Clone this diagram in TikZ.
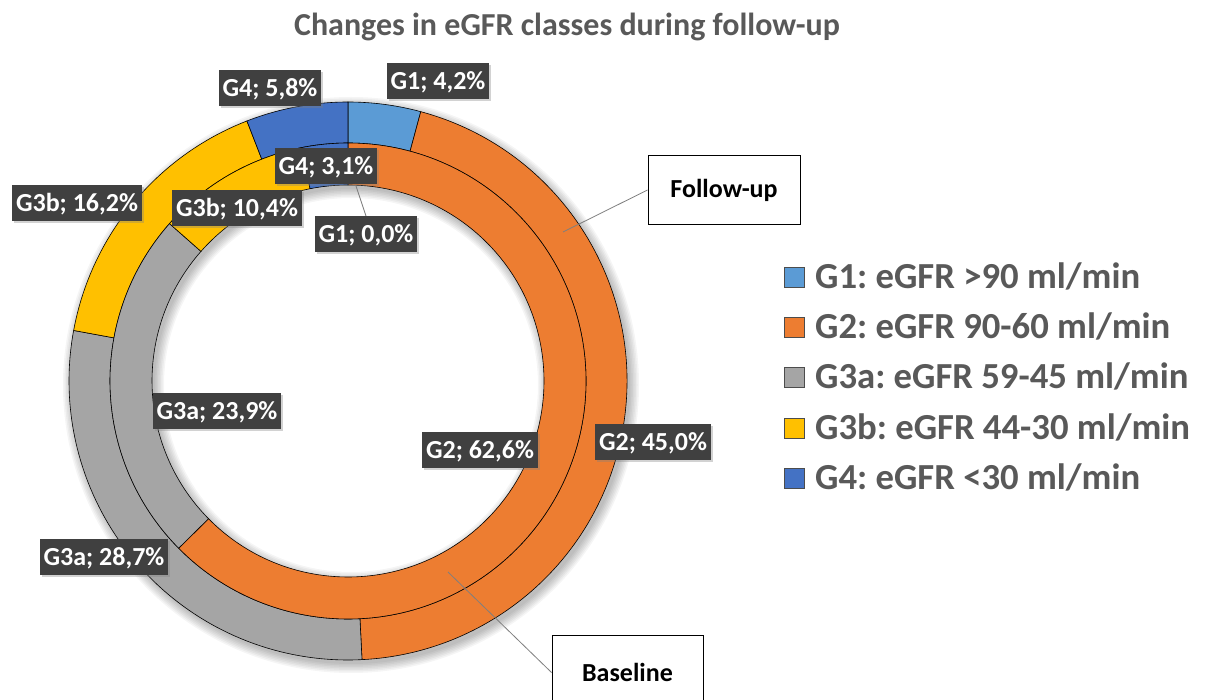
\documentclass[tikz,border=0pt]{standalone}
\usepackage{fontspec}
\setmainfont{Carlito}
\usetikzlibrary{shadows}
\definecolor{cGa}{HTML}{5B9BD5}
\definecolor{cGb}{HTML}{ED7D31}
\definecolor{cGc}{HTML}{A5A5A5}
\definecolor{cGd}{HTML}{FFC000}
\definecolor{cGe}{HTML}{4472C4}
\definecolor{lblbg}{HTML}{404040}
\definecolor{txtgray}{HTML}{595959}
\definecolor{leadgray}{HTML}{7F7F7F}
\newcommand\ringseg[5]{\filldraw[fill=#1, draw=black, line width=0.6pt] (#4:#3) arc[start angle=#4, end angle=#5, radius=#3] -- (#5:#2) arc[start angle=#5, end angle=#4, radius=#2] -- cycle;}
\tikzset{
  lbl/.style={fill=lblbg, text=white, font=\frenchspacing\bfseries\fontsize{26}{30}\selectfont,
    inner xsep=4pt, inner ysep=0pt, minimum height=36pt, text height=17pt, text depth=0pt,
    drop shadow={opacity=0.35, shadow xshift=2pt, shadow yshift=-2pt}},
  callout/.style={draw=black, line width=0.9pt, fill=white, font=\bfseries\fontsize{26}{30}\selectfont},
  leader/.style={draw=leadgray, line width=0.8pt},
  legsq/.style={draw=black!70, line width=0.6pt, minimum size=20pt, inner sep=0pt},
  legtxt/.style={anchor=base west, inner sep=0pt, text=txtgray, font=\frenchspacing\bfseries\fontsize{36.7}{40}\selectfont}
}
\begin{document}
\begin{tikzpicture}[x=1pt, y=-1pt]
\useasboundingbox (0,0) rectangle (1211,700);
\fill[white] (0,0) rectangle (1211,700);
\node[text=txtgray, font=\bfseries\fontsize{32}{36}\selectfont] (title) at (567,27) {Changes in eGFR classes during follow-up};
% rings
\begin{scope}[shift={(348,381)}, y=1pt]
  % soft shadow
  \foreach \k in {0,1.5,...,9}{
    \fill[black, opacity=0.04, even odd rule] (3,-4) circle[radius=279+\k] (3,-4) circle[radius=196-\k];
  }
  % outer ring: follow-up
  \ringseg{cGa}{238}{279}{90}{74.88}
  \ringseg{cGb}{238}{279}{74.88}{-87.12}
  \ringseg{cGc}{238}{279}{-87.12}{-190.44}
  \ringseg{cGd}{238}{279}{-190.44}{-248.76}
  \ringseg{cGe}{238}{279}{-248.76}{-270}
  % inner ring: baseline
  \ringseg{cGb}{196}{238}{90}{-135.36}
  \ringseg{cGc}{196}{238}{-135.36}{-221.4}
  \ringseg{cGd}{196}{238}{-221.4}{-258.84}
  \ringseg{cGe}{196}{238}{-258.84}{-270}
\end{scope}
\coordinate (fuend) at (563,232);
\coordinate (blend) at (448,572);
\coordinate (g10end) at (356,186);
% callouts
\node[callout, minimum width=152pt, minimum height=69pt] (fu) at (724,190) {Follow-up};
\begin{scope}
\clip (0,0) rectangle (1211,700);
\node[callout, minimum width=151pt, minimum height=75pt] (bl) at (627.5,672.5) {Baseline};
\end{scope}
\draw[leader] (fu.west) -- (fuend);
\draw[leader] (bl.west) -- (blend);
% data labels
\node[lbl] (lg1f) at (438,81) {G1; 4,2\%};
\node[lbl] (lg4f) at (270,88) {G4; 5,8\%};
\node[lbl] (lg3bf) at (77,203) {G3b; 16,2\%};
\node[lbl] (lg3af) at (104,557) {G3a; 28,7\%};
\node[lbl] (lg2f) at (653,442) {G2; 45,0\%};
\draw[leader] (366,216) -- (g10end);
\node[lbl] (lg4b) at (326,166) {G4; 3,1\%};
\node[lbl] (lg1b) at (366,234) {G1; 0,0\%};
\node[lbl] (lg3bb) at (237,208) {G3b; 10,4\%};
\node[lbl] (lg3ab) at (217,411) {G3a; 23,9\%};
\node[lbl] (lg2b) at (480,450) {G2; 62,6\%};
% legend
\node[legsq, fill=cGa] (sq1) at (794,277) {};
\node[legsq, fill=cGb] (sq2) at (794,327) {};
\node[legsq, fill=cGc] (sq3) at (794,377) {};
\node[legsq, fill=cGd] (sq4) at (794,428) {};
\node[legsq, fill=cGe] (sq5) at (794,478) {};
\node[legtxt] (t1) at (815,289) {G1: eGFR >90 ml/min};
\node[legtxt] (t2) at (815,339) {G2: eGFR 90-60 ml/min};
\node[legtxt] (t3) at (815,389) {G3a: eGFR 59-45 ml/min};
\node[legtxt] (t4) at (815,440) {G3b: eGFR 44-30 ml/min};
\node[legtxt] (t5) at (815,490) {G4: eGFR <30 ml/min};
\end{tikzpicture}
\end{document}
